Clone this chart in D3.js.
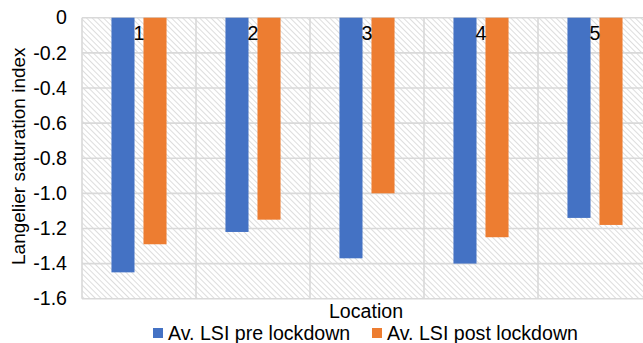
<!DOCTYPE html>
<html>
<head>
<meta charset="utf-8">
<script src="https://cdn.jsdelivr.net/npm/d3@7"></script>
<style>
  html, body { margin: 0; padding: 0; background: #fff; overflow: hidden; }
  svg { display: block; font-family: "Liberation Sans", Arial, Helvetica, sans-serif; }
</style>
</head>
<body>
<svg id="chart" width="643" height="343"></svg>
<script>
// Langelier saturation index per sampling location, before and after lockdown
const locations = ["1", "2", "3", "4", "5"];
const seriesNames = ["Av. LSI pre lockdown", "Av. LSI post lockdown"];
const preLockdown = [-1.45, -1.22, -1.37, -1.40, -1.14];
const postLockdown = [-1.29, -1.15, -1.00, -1.25, -1.18];
const yTicks = [0, -0.2, -0.4, -0.6, -0.8, -1.0, -1.2, -1.4, -1.6];
const colors = ["#4472c4", "#ed7d31"];

const svg = d3.select("#chart");
const plot = { left: 82, right: 652, top: 17.7, bottom: 298.7 };
const fontSize = 19.6;

const rows = locations.map((loc, i) => ({
  loc,
  values: [preLockdown[i], postLockdown[i]]
}));

const x0 = d3.scaleBand().domain(locations).range([plot.left, plot.right]).padding(0);
const x1 = d3.scaleBand().domain(seriesNames).range([0, x0.bandwidth()])
  .paddingInner(0.28).paddingOuter(0.92);
const y = d3.scaleLinear().domain([0, -1.6]).range([plot.top, plot.bottom]);

// hatched plot background
const defs = svg.append("defs");
const pat = defs.append("pattern")
  .attr("id", "hatch").attr("patternUnits", "userSpaceOnUse")
  .attr("width", 4).attr("height", 4)
  .attr("patternTransform", "rotate(-45)");
pat.append("rect").attr("width", 4).attr("height", 4).attr("fill", "#ffffff");
pat.append("line").attr("x1", 0).attr("y1", 0).attr("x2", 0).attr("y2", 4)
  .attr("stroke", "#cfcfcf").attr("stroke-width", 1.4);

svg.append("rect")
  .attr("x", plot.left).attr("y", plot.top)
  .attr("width", plot.right - plot.left).attr("height", plot.bottom - plot.top)
  .attr("fill", "url(#hatch)");

// horizontal gridlines
svg.append("g")
  .selectAll("line").data(yTicks).join("line")
  .attr("x1", plot.left).attr("x2", plot.right)
  .attr("y1", d => y(d)).attr("y2", d => y(d))
  .attr("stroke", "#d9d9d9").attr("stroke-width", 1.6);

// vertical category separators
const bounds = locations.map(l => x0(l)).concat([plot.right]);
svg.append("g")
  .selectAll("line").data(bounds).join("line")
  .attr("x1", d => d).attr("x2", d => d)
  .attr("y1", plot.top).attr("y2", plot.bottom)
  .attr("stroke", "#d9d9d9").attr("stroke-width", 1.6);

// bars
const groups = svg.append("g").selectAll("g").data(rows).join("g")
  .attr("transform", d => `translate(${x0(d.loc)},0)`);
groups.selectAll("rect")
  .data(d => d.values.map((v, i) => ({ v, s: seriesNames[i], i })))
  .join("rect")
  .attr("x", d => x1(d.s))
  .attr("width", x1.bandwidth())
  .attr("y", d => Math.min(y(0), y(d.v)))
  .attr("height", d => Math.abs(y(d.v) - y(0)))
  .attr("fill", d => colors[d.i]);

// category axis sits at zero, labels drawn just below it
const xAxis = d3.axisBottom(x0).tickSize(0).tickPadding(0);
const gx = svg.append("g").attr("transform", `translate(0,${y(0)})`).call(xAxis);
gx.select(".domain").remove();
gx.selectAll("text")
  .attr("font-size", fontSize).attr("fill", "#000")
  .attr("font-family", "Liberation Sans, Arial, sans-serif")
  .attr("dy", "1.12em");

// value axis
const yAxis = d3.axisLeft(y).tickValues(yTicks)
  .tickFormat(d => d === 0 ? "0" : d3.format(".1f")(d).replace("−", "-"))
  .tickSize(0).tickPadding(15);
const gy = svg.append("g").attr("transform", `translate(${plot.left},0)`).call(yAxis);
gy.select(".domain").remove();
gy.selectAll("text")
  .attr("font-size", fontSize).attr("fill", "#000")
  .attr("font-family", "Liberation Sans, Arial, sans-serif");

// axis titles
svg.append("text")
  .attr("transform", `translate(25,${(plot.top + plot.bottom) / 2 - 2}) rotate(-90)`)
  .attr("text-anchor", "middle")
  .attr("font-size", 19)
  .text("Langelier saturation index");

svg.append("text")
  .attr("x", 366).attr("y", 318)
  .attr("text-anchor", "middle")
  .attr("font-size", fontSize)
  .text("Location");

// legend
const legendX = [153, 372];
const legend = svg.append("g").selectAll("g").data(seriesNames).join("g")
  .attr("transform", (d, i) => `translate(${legendX[i]},328)`);
legend.append("rect").attr("width", 10).attr("height", 10)
  .attr("fill", (d, i) => colors[i]);
legend.append("text").attr("x", 15).attr("y", 12)
  .attr("font-size", fontSize)
  .text(d => d);
</script>
</body>
</html>
